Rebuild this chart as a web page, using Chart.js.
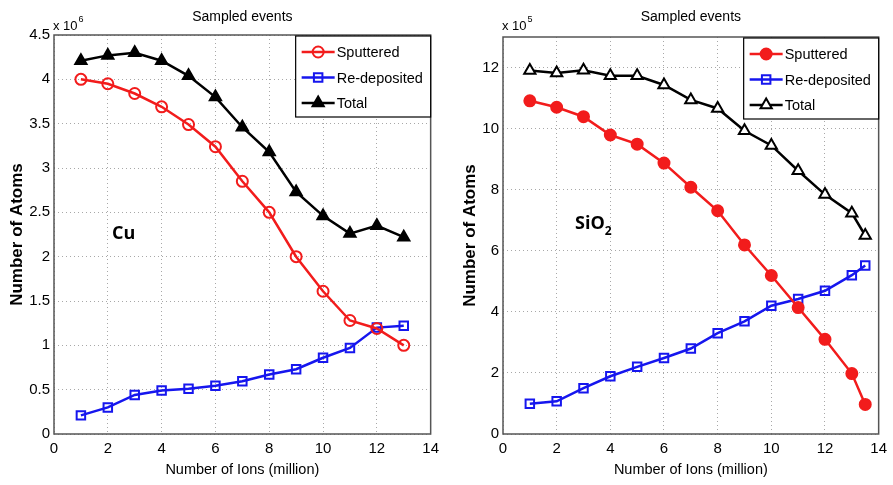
<!DOCTYPE html>
<html>
<head>
<meta charset="utf-8">
<script src="https://cdn.jsdelivr.net/npm/chart.js@4.4.1/dist/chart.umd.min.js"></script>
<style>
  body { margin: 0; background: #fff; }
  canvas { position: absolute; top: 0; }
  #cuChart { left: 0; }
  #sioChart { left: 445px; }
</style>
</head>
<body>
<canvas id="cuChart" width="445" height="485"></canvas>
<canvas id="sioChart" width="448" height="485"></canvas>
<script>
// Cu, values in units of 1e6 atoms
const cuIons = [1, 2, 3, 4, 5, 6, 7, 8, 9, 10, 11, 12, 13];
const cuSputtered = [4.0, 3.95, 3.84, 3.69, 3.49, 3.24, 2.85, 2.5, 2.0, 1.61, 1.28, 1.19, 1.0];
const cuRedeposited = [0.21, 0.3, 0.44, 0.49, 0.51, 0.545, 0.595, 0.67, 0.73, 0.86, 0.97, 1.2, 1.22];
const cuTotal = [4.21, 4.27, 4.3, 4.21, 4.04, 3.8, 3.46, 3.18, 2.73, 2.46, 2.26, 2.35, 2.22];

// SiO2, values in units of 1e5 atoms
const sioIons = [1, 2, 3, 4, 5, 6, 7, 8, 9, 10, 11, 12, 13, 13.5];
const sioSputtered = [10.91, 10.7, 10.39, 9.79, 9.49, 8.87, 8.08, 7.31, 6.19, 5.19, 4.14, 3.1, 1.98, 0.97];
const sioRedeposited = [0.99, 1.07, 1.5, 1.89, 2.2, 2.49, 2.8, 3.3, 3.69, 4.2, 4.42, 4.69, 5.2, 5.52];
const sioTotal = [11.9, 11.82, 11.91, 11.73, 11.73, 11.43, 10.94, 10.66, 9.93, 9.45, 8.62, 7.84, 7.23, 6.5];

const seriesNames = ['Sputtered', 'Re-deposited', 'Total'];
const RED = '#f21c1c', BLUE = '#1616ee', BLACK = '#000';
const FONT = 'Liberation Sans, Arial, sans-serif';

function pts(xs, ys) {
  return xs.map((x, i) => ({x: x, y: ys[i]}));
}

// frame, legend box and text labels drawn around the plot area
const decorPlugin = {
  id: 'decor',
  afterDraw(chart, args, opts) {
    const ctx = chart.ctx;
    const a = chart.chartArea;
    ctx.save();
    ctx.strokeStyle = '#555';
    ctx.lineWidth = 1.5;
    ctx.strokeRect(a.left, a.top, a.right - a.left, a.bottom - a.top);

    // title
    ctx.fillStyle = '#000';
    ctx.font = '14px ' + FONT;
    ctx.textAlign = 'center';
    ctx.textBaseline = 'middle';
    ctx.fillText('Sampled events', (a.left + a.right) / 2, 17);

    // exponent
    ctx.textAlign = 'left';
    ctx.font = '13px ' + FONT;
    ctx.fillText('x 10', a.left - 1, 26);
    const ew = ctx.measureText('x 10').width;
    ctx.font = '9px ' + FONT;
    ctx.fillText(opts.exp, a.left + ew, 20);

    // material label
    ctx.font = 'bold 18px "Open Sans", sans-serif';
    ctx.fillText(opts.label, opts.labelX, opts.labelY);
    if (opts.sub) {
      const w = ctx.measureText(opts.label).width;
      ctx.font = 'bold 12px "Open Sans", sans-serif';
      ctx.fillText(opts.sub, opts.labelX + w, opts.labelY + 8);
    }

    // legend
    const bw = 135, bh = 81;
    const bx = a.right - bw, by = a.top + 1;
    ctx.fillStyle = '#fff';
    ctx.fillRect(bx, by, bw, bh);
    ctx.strokeStyle = '#000';
    ctx.lineWidth = 1.2;
    ctx.strokeRect(bx, by, bw, bh);
    chart.data.datasets.forEach((ds, i) => {
      const y = by + 16 + i * 25.5;
      ctx.strokeStyle = ds.borderColor;
      ctx.lineWidth = ds.borderWidth;
      ctx.beginPath();
      ctx.moveTo(bx + 6, y);
      ctx.lineTo(bx + 39, y);
      ctx.stroke();
      ctx.fillStyle = ds.pointBackgroundColor;
      ctx.strokeStyle = ds.pointBorderColor;
      ctx.lineWidth = ds.pointBorderWidth;
      Chart.helpers.drawPoint(ctx, {
        pointStyle: ds.pointStyle,
        radius: ds.pointRadius,
        borderWidth: ds.pointBorderWidth,
        rotation: 0
      }, bx + 22.5, y);
      ctx.fillStyle = '#000';
      ctx.font = '14.5px ' + FONT;
      ctx.textBaseline = 'middle';
      ctx.fillText(ds.label, bx + 41, y + 1);
    });
    ctx.restore();
  }
};

function makeDataset(label, data, color, style, fill, radius) {
  return {
    label: label,
    data: data,
    borderColor: color,
    backgroundColor: fill,
    borderWidth: 2.5,
    pointStyle: style,
    pointRadius: radius,
    pointBorderWidth: 2,
    pointBackgroundColor: fill,
    pointBorderColor: color,
    tension: 0
  };
}

function makeOptions(yMax, yStep, padRight, padTop, yWidth, yTitlePad, decor) {
  const grid = {
    color: '#a8a8a8',
    lineWidth: 1,
    drawTicks: false
  };
  return {
    responsive: false,
    animation: false,
    devicePixelRatio: 1,
    layout: {padding: {top: padTop, right: padRight, left: 0, bottom: 0}},
    plugins: {
      legend: {display: false},
      tooltip: {enabled: false},
      decor: decor
    },
    scales: {
      x: {
        type: 'linear',
        min: 0,
        max: 14,
        border: {display: false, dash: [1, 3]},
        grid: grid,
        ticks: {stepSize: 2, color: '#000', padding: 6, font: {family: FONT, size: 15}},
        title: {display: true, text: 'Number of Ions (million)', color: '#000',
                font: {family: FONT, size: 14.5}, padding: {bottom: 6}},
        afterFit(s) { s.height = 51; }
      },
      y: {
        min: 0,
        max: yMax,
        border: {display: false, dash: [1, 3]},
        grid: grid,
        ticks: {
          stepSize: yStep, color: '#000', padding: 4, font: {family: FONT, size: 15},
          callback: v => String(Math.round(v * 10) / 10)
        },
        afterBuildTicks(s) {
          s.ticks = s.ticks.filter(t => Math.abs(t.value / yStep - Math.round(t.value / yStep)) < 1e-6);
        },
        title: {display: true, text: 'Number of Atoms', color: '#000',
                font: {family: FONT, size: 17, weight: 'bold'}, padding: {top: yTitlePad}},
        afterFit(s) { s.width = yWidth; }
      }
    }
  };
}

new Chart(document.getElementById('cuChart'), {
  type: 'line',
  data: {
    datasets: [
      makeDataset(seriesNames[0], pts(cuIons, cuSputtered), RED, 'circle', 'rgba(255,255,255,0)', 5.5),
      makeDataset(seriesNames[1], pts(cuIons, cuRedeposited), BLUE, 'rect', 'rgba(255,255,255,0)', 6),
      makeDataset(seriesNames[2], pts(cuIons, cuTotal), BLACK, 'triangle', BLACK, 6.5)
    ]
  },
  options: makeOptions(4.5, 0.5, 12, 35, 54, 7, {exp: '6', label: 'Cu', labelX: 112, labelY: 234}),
  plugins: [decorPlugin]
});

new Chart(document.getElementById('sioChart'), {
  type: 'line',
  data: {
    datasets: [
      makeDataset(seriesNames[0], pts(sioIons, sioSputtered), RED, 'circle', RED, 5.5),
      makeDataset(seriesNames[1], pts(sioIons, sioRedeposited), BLUE, 'rect', 'rgba(255,255,255,0)', 6),
      makeDataset(seriesNames[2], pts(sioIons, sioTotal), BLACK, 'triangle', '#fff', 6.5)
    ]
  },
  options: makeOptions(13, 2, 7, 37, 58, 15, {exp: '5', label: 'SiO', sub: '2', labelX: 130, labelY: 224}),
  plugins: [decorPlugin]
});
</script>
</body>
</html>
